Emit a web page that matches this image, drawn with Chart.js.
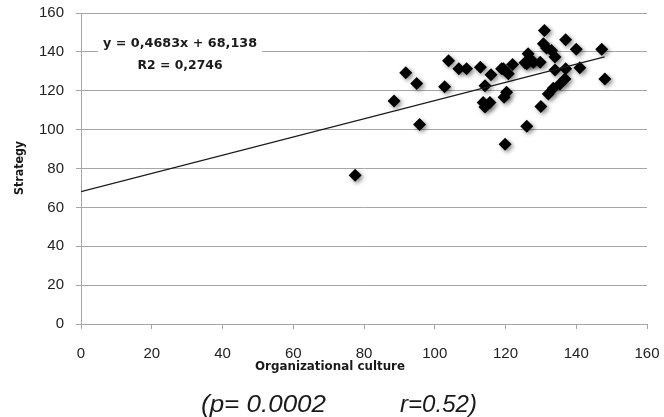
<!DOCTYPE html>
<html>
<head>
<meta charset="utf-8">
<script src="https://cdn.jsdelivr.net/npm/chart.js@4/dist/chart.umd.min.js"></script>
<style>
  html, body { margin: 0; padding: 0; background: #fff; }
  #wrap { width: 664px; height: 417px; position: relative; }
</style>
</head>
<body>
<div id="wrap"><canvas id="scatter"></canvas></div>
<script>
"use strict";

// Organizational culture (x) vs Strategy (y)
const cultureX = [77.5, 88.5, 91.8, 94.9, 95.7, 102.8, 103.9, 106.8, 109, 112.9,
    113.7, 115.6, 114.2, 114.2, 115.9, 118.9, 119.4, 119.6, 119.9, 120.3,
    120.8, 122, 125.5, 126, 126, 126.4, 127.4, 127.9, 129.8, 130, 130.7,
    131, 131.6, 132.1, 133, 133.5, 134, 134, 135.4, 136.8, 137, 137,
    140, 141, 147.2, 148.1];
const strategyY = [76.5, 114.7, 129.2, 123.7, 102.6, 122.1, 135.4, 131.3, 131.3, 132.1,
    114, 114, 111.6, 122.6, 128.2, 131.3, 131.3, 116.6, 92.5, 119.2,
    128.7, 133.5, 134.4, 101.8, 133.9, 139, 135.6, 134.7, 134.7, 111.9, 144.2,
    151, 142, 118.3, 140.7, 121.3, 137.3, 130.7, 123.5, 126.1, 131.3, 146.3,
    141.3, 131.8, 141.3, 126.1];

// linear trend shown on the chart
const trendSlope = 0.4683;
const trendIntercept = 68.138;
const trendRange = [0, 148];

const xTicks = [0, 20, 40, 60, 80, 100, 120, 140, 160];
const yTicks = [0, 20, 40, 60, 80, 100, 120, 140, 160];

const points = cultureX.map((x, i) => ({ x: x, y: strategyY[i] }));
const trend = trendRange.map(x => ({ x: x, y: trendSlope * x + trendIntercept }));

const gridColor = '#a6a6a6';
const tickFont = { family: 'Liberation Sans, Arial, sans-serif', size: 15 };
const boldFont = '"DejaVu Sans Condensed", "Liberation Sans", sans-serif';

// draw text squeezed/stretched to a given width
function fitText(c, txt, x, y, w) {
    const m = c.measureText(txt).width;
    c.save();
    c.translate(x, y);
    c.scale(w / m, 1);
    c.fillText(txt, 0, 0);
    c.restore();
}

// titles, equation and the footnote
const textPlugin = {
    id: 'texts',
    beforeDatasetDraw(chart, args) {
        if (args.index === 1) {
            const c = chart.ctx;
            c.save();
            c.shadowColor = 'rgba(0,0,0,0.45)';
            c.shadowBlur = 4;
            c.shadowOffsetX = 2;
            c.shadowOffsetY = 2;
        }
    },
    afterDatasetDraw(chart, args) {
        if (args.index === 1) chart.ctx.restore();
    },
    afterDraw(chart) {
        const c = chart.ctx;
        c.save();
        c.fillStyle = '#1a1a1a';
        c.textAlign = 'center';
        c.textBaseline = 'middle';
        c.font = 'bold 13px ' + boldFont;
        fitText(c, 'Organizational culture', 330, 367, 150);

        c.save();
        c.translate(20, 168);
        c.rotate(-Math.PI / 2);
        fitText(c, 'Strategy', 0, 0, 54);
        c.restore();

        // equation with white background over the 140 grid line
        c.fillStyle = '#fff';
        c.fillRect(98, 36, 164, 16);
        c.fillStyle = '#1a1a1a';
        c.font = 'bold 13px ' + boldFont;
        fitText(c, 'y = 0,4683x + 68,138', 180, 44, 154);
        fitText(c, 'R2 = 0,2746', 180, 66, 85);

        c.font = 'italic 24px "Liberation Sans", Arial, sans-serif';
        c.textAlign = 'left';
        c.textBaseline = 'alphabetic';
        fitText(c, '(p= 0.0002', 201, 412, 125);
        fitText(c, 'r=0.52)', 400, 412, 77);
        c.restore();
    }
};

var initScatter = function () {
    var ctx = document.getElementById('scatter');
    new Chart(ctx, {
        type: 'scatter',
        data: {
            datasets: [
                {
                    type: 'line',
                    label: 'Trend',
                    data: trend,
                    borderColor: '#1a1a1a',
                    borderWidth: 1.2,
                    pointRadius: 0,
                    fill: false
                },
                {
                    label: 'Strategy',
                    data: points,
                    pointStyle: 'rectRot',
                    pointRadius: 6.5,
                    backgroundColor: '#000',
                    borderColor: '#000',
                    borderWidth: 0
                }
            ]
        },
        options: {
            responsive: false,
            animation: false,
            layout: { padding: { top: 13, right: 17, left: 0, bottom: 0 } },
            plugins: {
                legend: { display: false },
                tooltip: { enabled: false }
            },
            scales: {
                x: {
                    type: 'linear',
                    min: 0,
                    max: 160,
                    afterBuildTicks: s => { s.ticks = xTicks.map(v => ({ value: v })); },
                    afterFit: s => { s.height = 93; s.paddingLeft = 0; s.paddingRight = 0; },
                    grid: {
                        display: true,
                        drawOnChartArea: false,
                        drawTicks: true,
                        tickLength: 5,
                        color: gridColor
                    },
                    border: { color: gridColor, width: 1 },
                    ticks: { font: tickFont, color: '#222', padding: 16, maxRotation: 0 }
                },
                y: {
                    type: 'linear',
                    min: 0,
                    max: 160,
                    afterBuildTicks: s => { s.ticks = yTicks.map(v => ({ value: v })); },
                    afterFit: s => { s.width = 81; s.paddingTop = 0; s.paddingBottom = 0; },
                    grid: {
                        color: gridColor,
                        tickLength: 5,
                        lineWidth: 1
                    },
                    border: { color: gridColor, width: 1 },
                    ticks: { font: tickFont, color: '#222', padding: 12 }
                }
            }
        },
        plugins: [textPlugin]
    });
};

document.getElementById('scatter').width = 664;
document.getElementById('scatter').height = 417;
initScatter();
</script>
</body>
</html>
